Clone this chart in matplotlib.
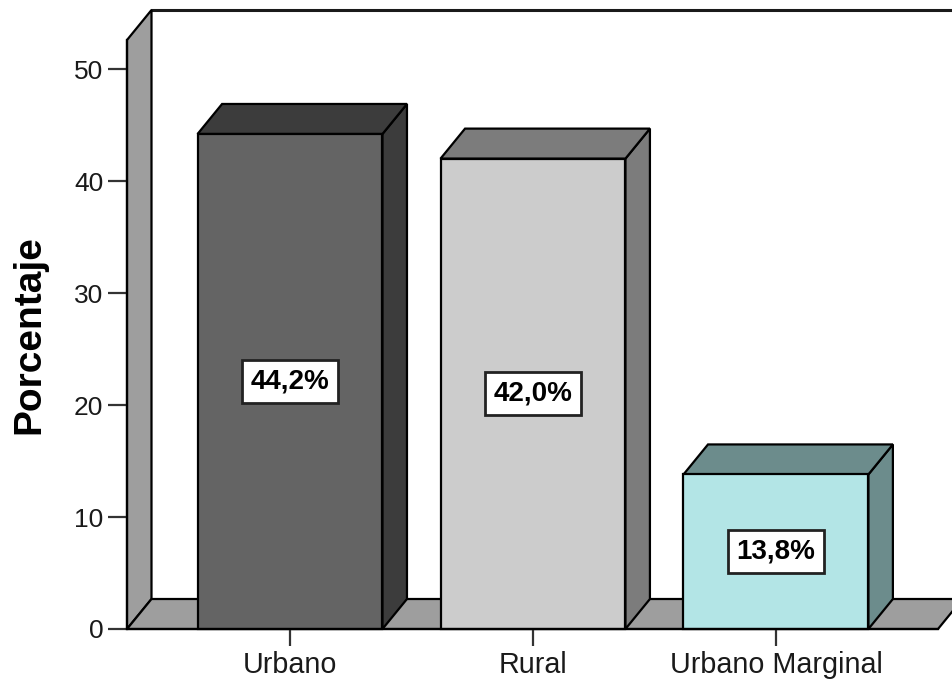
import matplotlib
matplotlib.use("Agg")
import matplotlib.pyplot as plt
from matplotlib.patches import Polygon
from matplotlib.lines import Line2D
import numpy as np

plt.rcParams['font.family'] = ['Liberation Sans', 'DejaVu Sans']

# Data
categories = ["Urbano", "Rural", "Urbano Marginal"]
percentages = [44.2, 42.0, 13.8]
y_ticks = [0, 10, 20, 30, 40, 50]
y_label = "Porcentaje"

# Face colours per bar: (front, top/side)
front_colors = ["#646464", "#cccccc", "#b3e5e6"]
shade_colors = ["#3c3c3c", "#7c7c7c", "#6c8c8c"]
wall_color = "#9e9e9e"

W, H, DPI = 953, 686, 100
fig = plt.figure(figsize=(W / DPI, H / DPI), dpi=DPI)
ax = fig.add_axes([127 / W, (H - 629) / H, 811 / W, 589 / H])
ax.patch.set_visible(False)

x = np.arange(len(categories))
ax.set_xlim(-0.671, 2.667)
ax.set_ylim(0, 52.59)
bar_w = 0.761

# depth offset (pixels) converted into data units
depth_px = np.array([24.5, 30.0])
p0 = ax.transData.transform((0, 0))
ddx, ddy = ax.transData.inverted().transform(p0 + depth_px)
xmin, xmax = ax.get_xlim()
ymax = ax.get_ylim()[1]

lw = 1.6
# back wall top edge
ax.add_line(Line2D([xmin + ddx, xmax + 1], [ymax + ddy, ymax + ddy], color="#1a1a1a",
                   lw=2.2, clip_on=False, zorder=0.5))
# left wall
ax.add_patch(Polygon([(xmin, 0), (xmin, ymax), (xmin + ddx, ymax + ddy), (xmin + ddx, ddy)],
                     closed=True, fc=wall_color, ec="black", lw=lw, clip_on=False, zorder=0.6))
# floor
ax.add_patch(Polygon([(xmin, 0), (xmax, 0), (xmax + ddx, ddy), (xmin + ddx, ddy)],
                     closed=True, fc=wall_color, ec="black", lw=lw, clip_on=False, zorder=0.6))

# 3-D bars
for xi, v, fc, sc in zip(x, percentages, front_colors, shade_colors):
    x0, x1 = xi - bar_w / 2, xi + bar_w / 2
    side = [(x1, 0), (x1, v), (x1 + ddx, v + ddy), (x1 + ddx, ddy)]
    top = [(x0, v), (x1, v), (x1 + ddx, v + ddy), (x0 + ddx, v + ddy)]
    front = [(x0, 0), (x1, 0), (x1, v), (x0, v)]
    for pts, c in ((side, sc), (top, sc), (front, fc)):
        ax.add_patch(Polygon(pts, closed=True, fc=c, ec="black", lw=lw,
                             joinstyle="miter", clip_on=False, zorder=1))
    label = f"{v:.1f}".replace(".", ",") + "%"
    ax.text(xi, v / 2, label, ha="center", va="center", fontsize=20, fontweight="bold",
            zorder=3,
            bbox=dict(boxstyle="square,pad=0.3", fc="white", ec="#222222", lw=2.0))

# axes styling
for s in ("top", "right"):
    ax.spines[s].set_visible(False)
for s in ("left", "bottom"):
    ax.spines[s].set_color("black")
    ax.spines[s].set_linewidth(lw)
    ax.spines[s].set_zorder(2)

ax.set_yticks(y_ticks)
ax.set_yticklabels([str(t) for t in y_ticks])
ax.set_xticks(x)
ax.set_xticklabels(categories)
ax.tick_params(axis="y", length=13.5, width=1.6, color="#333333", pad=3.5,
               labelsize=19, labelcolor="#1a1a1a")
ax.tick_params(axis="x", length=12, width=1.6, color="#333333", pad=4,
               labelsize=20.7, labelcolor="#1a1a1a")

ax.set_ylabel(y_label, fontsize=28, fontweight="bold", color="black")
ax.yaxis.set_label_coords(-0.098, 0.5)

fig.savefig("out.png", dpi=DPI)
